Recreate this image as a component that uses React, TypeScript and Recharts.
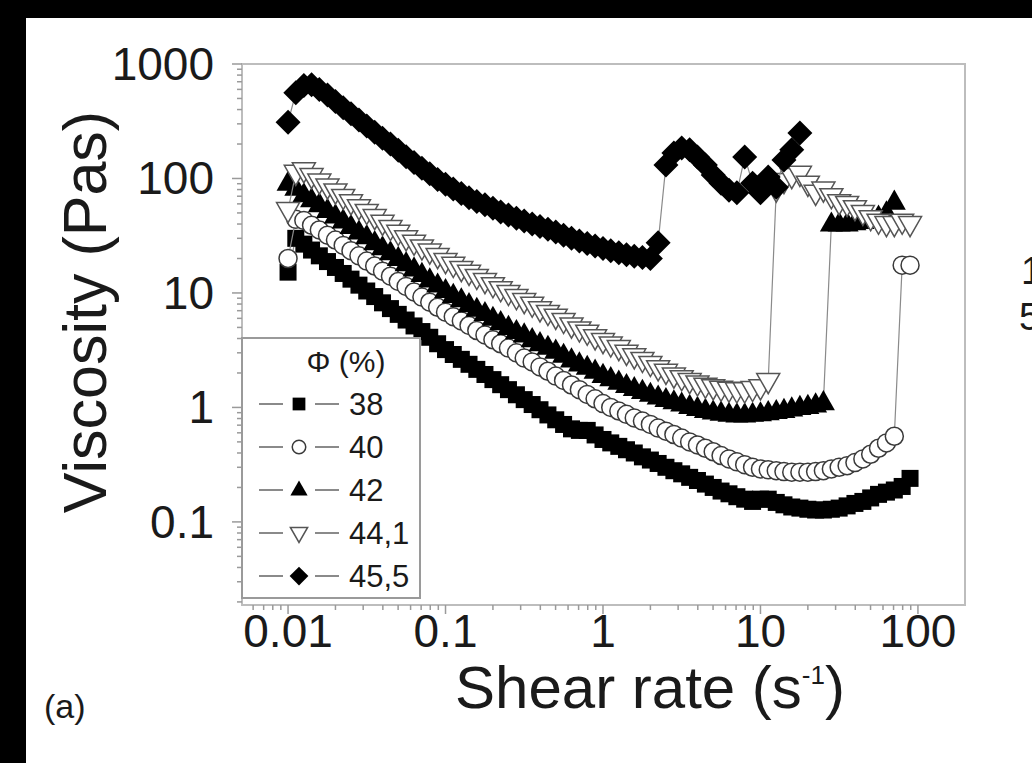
import React from "react";
import { ScatterChart, Scatter, XAxis, YAxis, ReferenceArea, Legend } from "recharts";

// measurement grid (s^-1), 20 points per decade
const shearRate = [
    0.01, 0.0112, 0.0126, 0.0141, 0.0158, 0.0178, 0.02, 0.0224, 0.0251, 0.0282,
    0.0316, 0.0355, 0.0398, 0.0447, 0.0501, 0.0562, 0.0631, 0.0708, 0.0794, 0.0891,
    0.1, 0.112, 0.126, 0.141, 0.158, 0.178, 0.2, 0.224, 0.251, 0.282,
    0.316, 0.355, 0.398, 0.447, 0.501, 0.562, 0.631, 0.708, 0.794, 0.891,
    1, 1.12, 1.26, 1.41, 1.58, 1.78, 2, 2.24, 2.51, 2.82,
    3.16, 3.55, 3.98, 4.47, 5.01, 5.62, 6.31, 7.08, 7.94, 8.91,
    10, 11.2, 12.6, 14.1, 15.8, 17.8, 20, 22.4, 25.1, 28.2,
    31.6, 35.5, 39.8, 44.7, 50.1, 56.2, 63.1, 70.8, 79.4, 89.1,
];

// viscosity (Pa s) per volume fraction
const eta38 = [
    15.2, 30, 26.7, 23.7, 21.1, 18.8, 16.7, 14.8, 13.2, 11.7,
    10.4, 9.3, 8.2, 7.3, 6.5, 5.8, 5.15, 4.6, 4.1, 3.6,
    3.2, 2.9, 2.63, 2.38, 2.15, 1.94, 1.75, 1.58, 1.43, 1.29,
    1.17, 1.06, 0.955, 0.86, 0.78, 0.71, 0.65, 0.63, 0.63, 0.575,
    0.525, 0.49, 0.457, 0.427, 0.4, 0.37, 0.347, 0.324, 0.3, 0.28,
    0.263, 0.245, 0.23, 0.214, 0.2, 0.186, 0.176, 0.166, 0.158, 0.151,
    0.158, 0.158, 0.148, 0.141, 0.135, 0.132, 0.129, 0.127, 0.127, 0.129,
    0.132, 0.138, 0.145, 0.151, 0.162, 0.174, 0.182, 0.19, 0.204, 0.24,
];
const eta40 = [
    20, 44, 43, 39, 35.5, 32, 29, 26, 23.4, 21.1,
    19, 17.2, 15.5, 14, 12.6, 11.4, 10.2, 9.2, 8.3, 7.5,
    6.8, 6.2, 5.7, 5.2, 4.7, 4.3, 3.9, 3.6, 3.3, 3.0,
    2.7, 2.5, 2.26, 2.07, 1.88, 1.72, 1.57, 1.43, 1.3, 1.19,
    1.08, 1.0, 0.93, 0.87, 0.81, 0.76, 0.71, 0.66, 0.62, 0.58,
    0.54, 0.5, 0.47, 0.44, 0.41, 0.38, 0.355, 0.335, 0.316, 0.3,
    0.29, 0.285, 0.28, 0.275, 0.272, 0.272, 0.272, 0.275, 0.28, 0.29,
    0.3, 0.31, 0.33, 0.355, 0.39, 0.44, 0.49, 0.56, 17.5, 17.5,
];
const eta42 = [
    91, 82, 72, 65, 59, 52.5, 47, 42.5, 38, 34,
    31, 27.5, 24.8, 22.4, 20, 18, 16.2, 14.5, 13, 11.7,
    10.5, 9.5, 8.7, 7.9, 7.2, 6.6, 6.0, 5.5, 5.0, 4.6,
    4.3, 3.9, 3.6, 3.35, 3.1, 2.85, 2.6, 2.4, 2.24, 2.07,
    1.9, 1.78, 1.66, 1.55, 1.46, 1.38, 1.3, 1.23, 1.17, 1.12,
    1.07, 1.02, 0.98, 0.94, 0.91, 0.89, 0.87, 0.86, 0.86, 0.87,
    0.88, 0.9, 0.92, 0.94, 0.97, 1.0, 1.02, 1.05, 1.1, 40,
    40, 40, 41, 42, 44, 46, 50, 62,
];
const eta441 = [
    53, 112, 118, 105, 94, 85, 77, 69, 62, 56,
    51, 46, 41, 37, 33.5, 30, 27.5, 25, 23, 21,
    19, 17.6, 16.2, 15, 13.8, 12.7, 11.7, 10.8, 10, 9.2,
    8.5, 7.9, 7.2, 6.7, 6.2, 5.7, 5.2, 4.8, 4.5, 4.1,
    3.8, 3.55, 3.3, 3.0, 2.8, 2.6, 2.4, 2.2, 2.05, 1.9,
    1.8, 1.7, 1.62, 1.55, 1.5, 1.46, 1.43, 1.41, 1.41, 1.45,
    1.5, 1.7, 80, 95, 105, 110, 90, 75, 80, 70,
    62, 60, 55, 50, 45, 42, 40, 40, 42, 40,
];
const eta455 = [
    310, 560, 650, 660, 600, 535, 470, 415, 367, 324,
    288, 254, 225, 200, 176, 155, 138, 123, 110, 98,
    89, 81, 74, 68, 63, 59, 55, 51, 48, 45,
    42.5, 40, 38, 36, 34, 32, 30, 28.5, 27, 25.7,
    24.5, 23.4, 22.4, 21.6, 20.9, 20.4, 20, 27.5, 131, 167,
    185, 178, 154, 131, 107, 91, 79, 75, 154, 91,
    75, 103, 84, 145, 178, 250,
];

const xMajor = [0.01, 0.1, 1, 10, 100];
const xMinor = [
    0.006, 0.007, 0.008, 0.009, 0.02, 0.03, 0.04, 0.05, 0.06, 0.07, 0.08, 0.09,
    0.2, 0.3, 0.4, 0.5, 0.6, 0.7, 0.8, 0.9, 2, 3, 4, 5, 6, 7, 8, 9,
    20, 30, 40, 50, 60, 70, 80, 90,
];
const yMajor = [0.1, 1, 10, 100, 1000];
const yMinor = [
    0.02, 0.03, 0.04, 0.05, 0.06, 0.07, 0.08, 0.09, 0.2, 0.3, 0.4, 0.5, 0.6, 0.7, 0.8, 0.9,
    2, 3, 4, 5, 6, 7, 8, 9, 20, 30, 40, 50, 60, 70, 80, 90, 200, 300, 400, 500, 600, 700, 800, 900,
];

const X_DOMAIN = [0.0051, 199];
const Y_DOMAIN = [0.0188, 1000];
const FONT = "'Liberation Sans', Arial, Helvetica, sans-serif";

type Kind = "square" | "circle" | "up" | "down" | "diamond";

const series: { name: string; kind: Kind; values: number[] }[] = [
    { name: "38", kind: "square", values: eta38 },
    { name: "40", kind: "circle", values: eta40 },
    { name: "42", kind: "up", values: eta42 },
    { name: "44,1", kind: "down", values: eta441 },
    { name: "45,5", kind: "diamond", values: eta455 },
];

function Marker({ kind, cx, cy, s = 1 }: { kind: Kind; cx: number; cy: number; s?: number }) {
    if (kind === "square") {
        const h = 8.5 * s;
        return <rect x={cx - h} y={cy - h} width={2 * h} height={2 * h} fill="#000" />;
    }
    if (kind === "circle") {
        return <circle cx={cx} cy={cy} r={9 * s} fill="#fff" stroke="#3a3a3a" strokeWidth={1.5} />;
    }
    if (kind === "up") {
        const h = 11.5 * s;
        return <polygon points={`${cx},${cy - h * 1.1} ${cx + h},${cy + h * 0.65} ${cx - h},${cy + h * 0.65}`} fill="#000" />;
    }
    if (kind === "down") {
        const h = 11.5 * s;
        return (
            <polygon
                points={`${cx - h},${cy - h * 0.65} ${cx + h},${cy - h * 0.65} ${cx},${cy + h * 1.1}`}
                fill="#fff" stroke="#555" strokeWidth={1.5}
            />
        );
    }
    const h = 12.5 * s;
    return <polygon points={`${cx},${cy - h} ${cx + h},${cy} ${cx},${cy + h} ${cx - h},${cy}`} fill="#000" />;
}

function XTick(props: any) {
    const { x, y, payload } = props;
    const major = xMajor.includes(payload.value);
    return (
        <g>
            <line x1={x} x2={x} y1={y} y2={y + (major ? 9 : 5)} stroke="#9a9a9a" strokeWidth={1.5} />
            {major && (
                <text x={x} y={y + 42} textAnchor="middle" fontSize={46} fontFamily={FONT} fill="#1a1a1a">
                    {String(payload.value)}
                </text>
            )}
        </g>
    );
}

function YTick(props: any) {
    const { x, y, payload } = props;
    const major = yMajor.includes(payload.value);
    return (
        <g>
            <line x1={x} x2={x - (major ? 10 : 5)} y1={y} y2={y} stroke="#9a9a9a" strokeWidth={1.5} />
            {major && (
                <text x={x - 28} y={y + 16} textAnchor="end" fontSize={46} fontFamily={FONT} fill="#1a1a1a">
                    {String(payload.value)}
                </text>
            )}
        </g>
    );
}

function LegendBox() {
    return (
        <svg width={180} height={262} style={{ display: "block" }}>
            <rect x={1} y={1} width={178} height={260} fill="#fff" stroke="#9a9a9a" strokeWidth={2} />
            <text x={105} y={35} textAnchor="middle" fontSize={30} fontFamily={FONT} fill="#1a1a1a">Φ (%)</text>
            {series.map((s, i) => {
                const cy = 67 + i * 43;
                return (
                    <g key={s.name}>
                        <line x1={18} x2={42} y1={cy} y2={cy} stroke="#8a8a8a" strokeWidth={2} />
                        <line x1={74} x2={98} y1={cy} y2={cy} stroke="#8a8a8a" strokeWidth={2} />
                        <Marker kind={s.kind} cx={58} cy={cy} s={0.75} />
                        <text x={108} y={cy + 11} fontSize={31} fontFamily={FONT} fill="#1a1a1a">{s.name}</text>
                    </g>
                );
            })}
        </svg>
    );
}

export default function App() {
    return (
        <div style={{ position: "absolute", left: 0, top: 0, width: 1032, height: 763, background: "#fff", overflow: "hidden" }}>
            <ScatterChart width={1032} height={763} margin={{ top: 64, right: 67, bottom: 68, left: 122 }}>
                <XAxis
                    type="number" dataKey="x" scale="log" domain={X_DOMAIN} allowDataOverflow
                    ticks={[...xMajor, ...xMinor]} interval={0} tick={<XTick />}
                    tickLine={false} axisLine={false} tickSize={0} tickMargin={0} height={90}
                />
                <YAxis
                    type="number" dataKey="y" scale="log" domain={Y_DOMAIN} allowDataOverflow
                    ticks={[...yMajor, ...yMinor]} interval={0} tick={<YTick />}
                    tickLine={false} axisLine={false} tickSize={0} tickMargin={0} width={120}
                />
                <ReferenceArea
                    x1={X_DOMAIN[0]} x2={X_DOMAIN[1]} y1={Y_DOMAIN[0]} y2={Y_DOMAIN[1]}
                    fill="none" stroke="#bdbdbd" strokeWidth={2} ifOverflow="visible"
                />
                {series.map((s) => (
                    <Scatter
                        key={s.name}
                        name={s.name}
                        data={s.values.map((v, i) => ({ x: shearRate[i], y: v }))}
                        line={{ stroke: "#8a8a8a", strokeWidth: 1.2 }}
                        shape={(p: any) => <Marker kind={s.kind} cx={p.cx} cy={p.cy} />}
                        isAnimationActive={false}
                    />
                ))}
                <Legend
                    layout="vertical" align="center" verticalAlign="middle"
                    wrapperStyle={{ left: 241, top: 337, width: 180, height: 262 }}
                    content={() => <LegendBox />}
                />
            </ScatterChart>
            <svg width={1032} height={763} style={{ position: "absolute", left: 0, top: 0, pointerEvents: "none" }}>
                <text
                    transform="rotate(-90 106 312)" x={106} y={312} textAnchor="middle"
                    fontSize={61} fontFamily={FONT} fill="#1a1a1a"
                >
                    Viscosity (Pas)
                </text>
                <text x={650} y={708} textAnchor="middle" fontSize={60} fontFamily={FONT} fill="#1a1a1a">
                    Shear rate (s<tspan dy={-24} fontSize={26}>-1</tspan><tspan dy={24}>)</tspan>
                </text>
                <text x={44} y={718} fontSize={34} fontFamily={FONT} fill="#1a1a1a">(a)</text>
                <text x={1021} y={284} fontSize={38} fontFamily={FONT} fill="#1a1a1a">1</text>
                <text x={1019} y={330} fontSize={38} fontFamily={FONT} fill="#1a1a1a">5</text>
            </svg>
            <div style={{ position: "absolute", left: 0, top: 0, width: 1032, height: 18, background: "#000" }} />
            <div style={{ position: "absolute", left: 0, top: 0, width: 26, height: 763, background: "#000" }} />
        </div>
    );
}
